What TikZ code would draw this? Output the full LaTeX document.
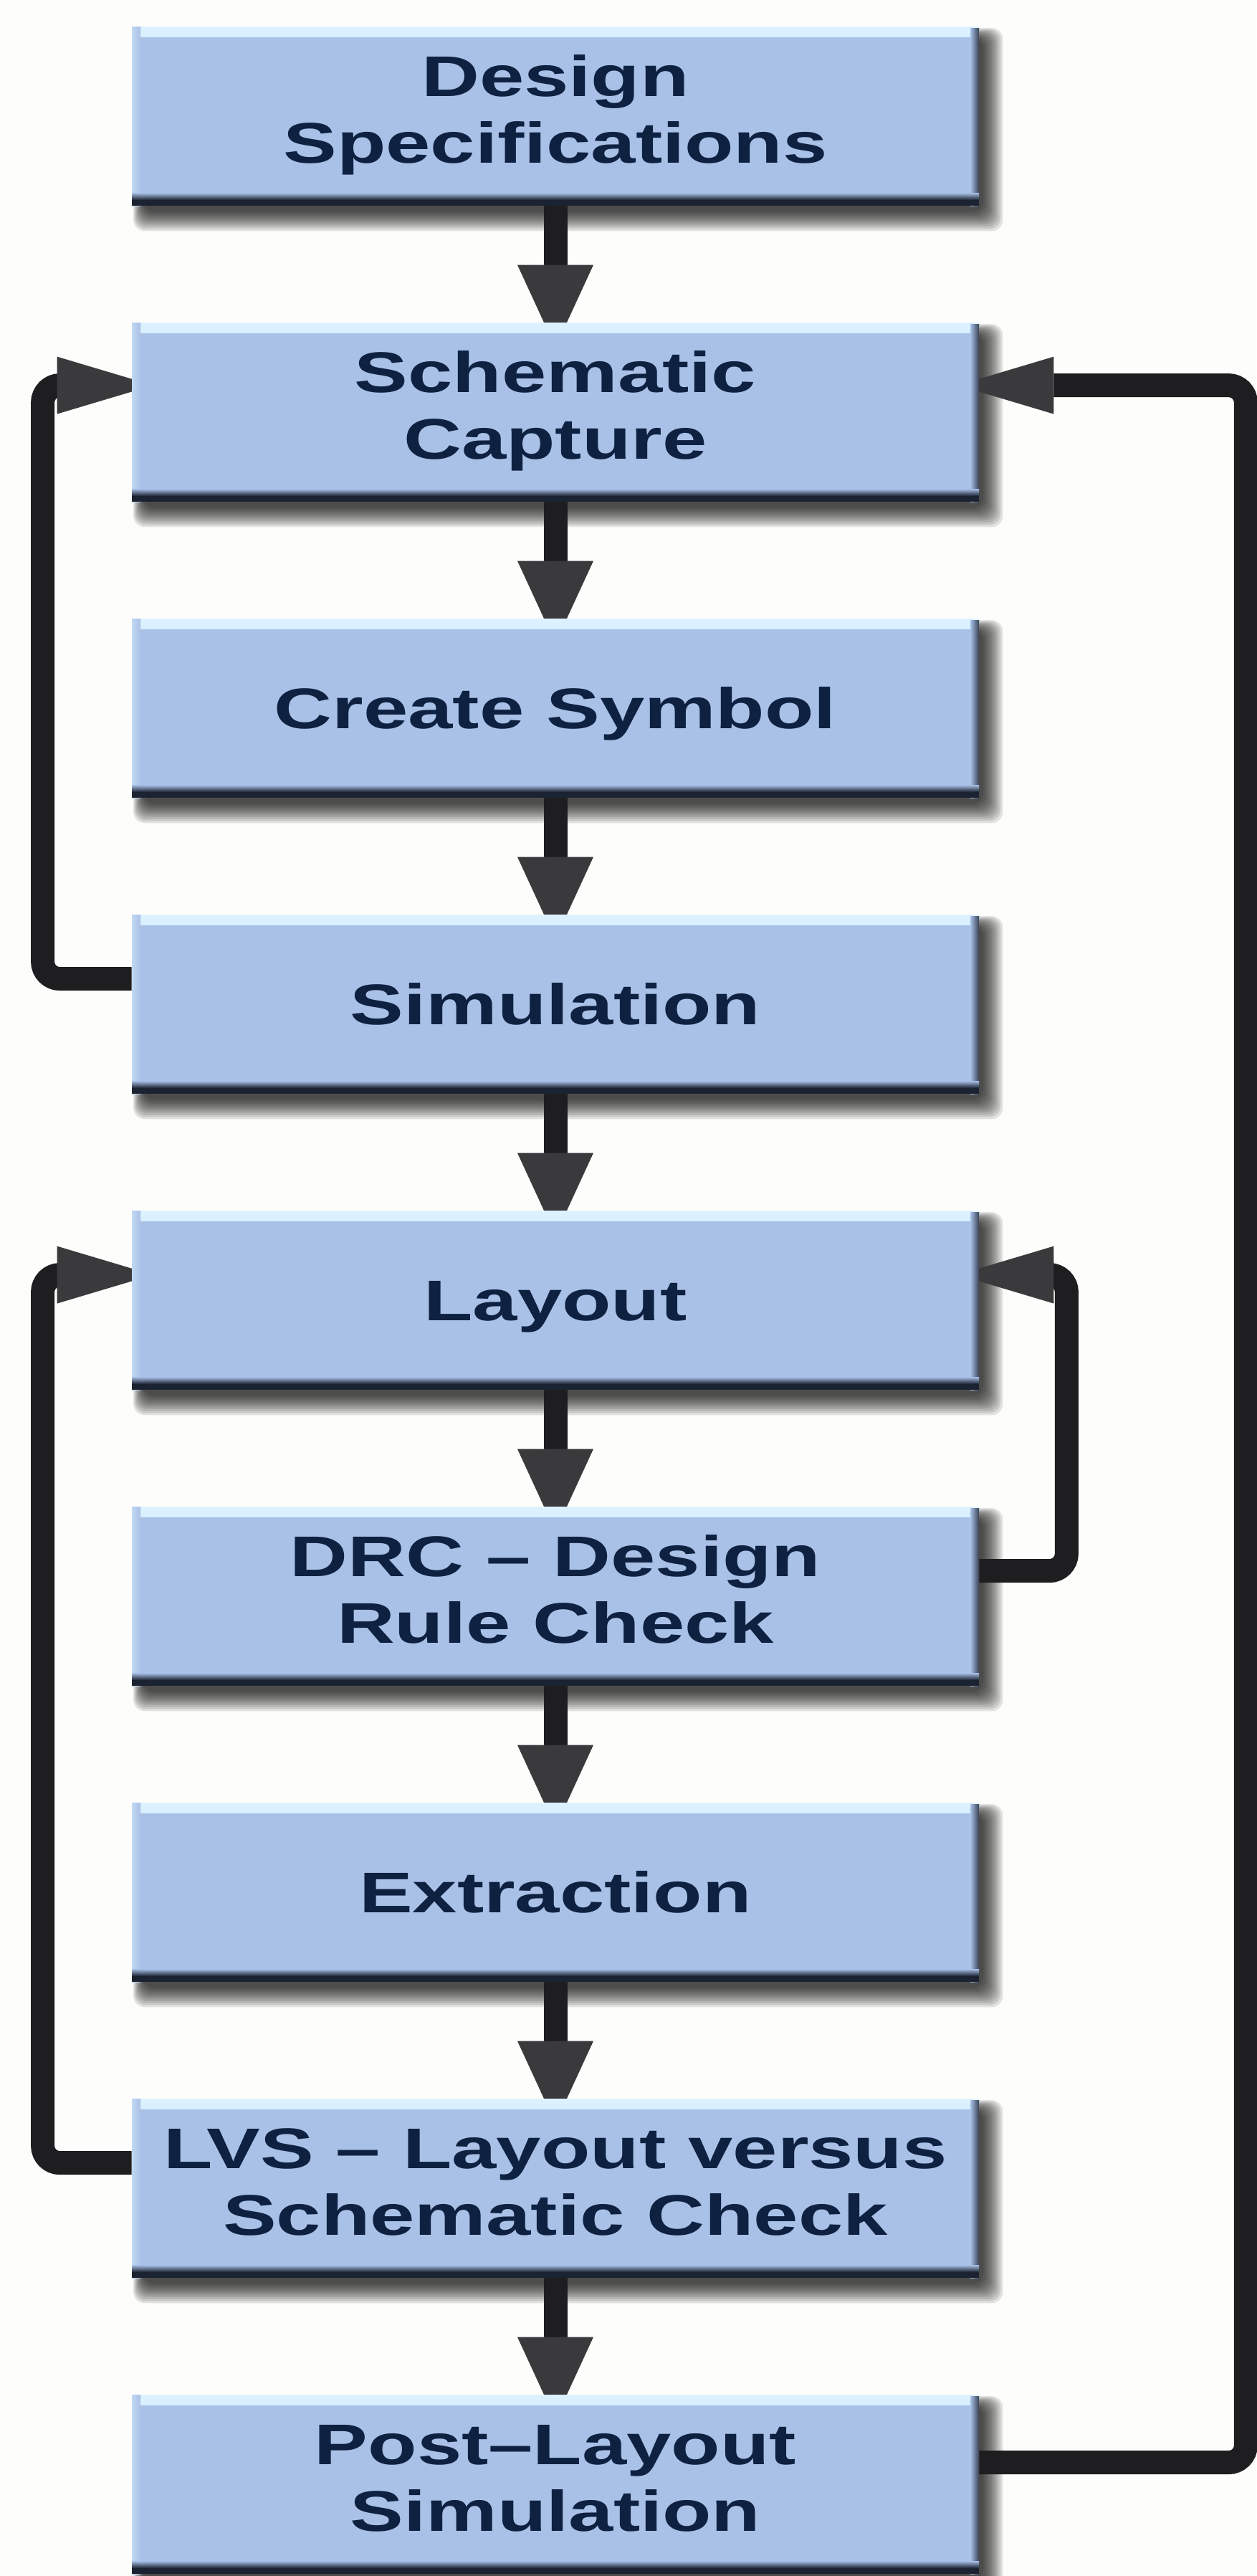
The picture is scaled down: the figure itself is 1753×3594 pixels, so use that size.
\documentclass[tikz,border=0pt]{standalone}
\usepackage{fontspec}
\setmainfont{Liberation Sans}
\usepackage{graphicx}
\usetikzlibrary{arrows.meta,calc}
\definecolor{boxc}{HTML}{A9C1E7}
\definecolor{hic}{HTML}{DDF2FF}
\definecolor{edgec}{HTML}{1B2332}
\definecolor{txtc}{HTML}{0E2141}
\definecolor{linec}{HTML}{1E1E20}
\definecolor{headc}{HTML}{3A3A3C}
\definecolor{bgc}{HTML}{FDFDFB}
\pgfdeclarelayer{shadowlayer}
\pgfdeclarelayer{arrowlayer}
\pgfsetlayers{shadowlayer,arrowlayer,main}
\newcommand{\wtxt}[1]{\scalebox{1.4}[1]{#1}}
\newcommand{\wtwo}[2]{\scalebox{1.4}[1]{\begin{tabular}{@{}c@{}}#1\\#2\end{tabular}}}
\tikzset{
  x=0.5pt, y=-0.5pt,
  stepbox/.style={rectangle, inner sep=0pt, minimum width=591pt, minimum height=125pt,
    fill=boxc, text=txtc, font=\bfseries\fontsize{40}{46.5}\selectfont,
    path picture={
      \shade[top color=hic, bottom color=boxc] (path picture bounding box.north west) rectangle ($(path picture bounding box.north east)+(0,14)$);
      \shade[left color=hic!45!boxc, right color=boxc] (path picture bounding box.north west) rectangle ($(path picture bounding box.south west)+(12,0)$);
      \shade[left color=boxc, right color=edgec!80!boxc] ($(path picture bounding box.north east)+(-12,2)$) rectangle (path picture bounding box.south east);
      \shade[top color=boxc, bottom color=edgec] ($(path picture bounding box.south west)+(0,-18)$) rectangle ($(path picture bounding box.south east)+(0,-8)$);
      \fill[edgec] ($(path picture bounding box.south west)+(0,-8)$) rectangle (path picture bounding box.south east);
    }},
  onebox/.style={stepbox, text height=28.6pt, text depth=0pt},
  flow/.style={draw=linec, line width=16.5pt, -{Triangle[length=57.5pt,width=53pt,line width=0pt,color=headc]}},
  fb/.style={draw=linec, line width=16.5pt, rounded corners=12pt, -{Triangle[length=67pt,width=40pt,line width=0pt,color=headc]}},
}
\begin{document}
\begin{tikzpicture}
\useasboundingbox (0,0) rectangle (1753,3594);
\begin{pgfonlayer}{shadowlayer}
  \fill[bgc] (0,0) rectangle (1753,3594);
\end{pgfonlayer}

\node[stepbox] (b1) at (775,162)  {\wtwo{Design}{Specifications}};
\node[stepbox] (b2) at (775,575)  {\wtwo{Schematic}{Capture}};
\node[onebox]  (b3) at (775,988)  {\wtxt{Create Symbol}};
\node[onebox]  (b4) at (775,1401) {\wtxt{Simulation}};
\node[onebox]  (b5) at (775,1814) {\wtxt{Layout}};
\node[stepbox] (b6) at (775,2227) {\wtwo{DRC – Design}{Rule Check}};
\node[onebox]  (b7) at (775,2640) {\wtxt{Extraction}};
\node[stepbox] (b8) at (775,3053) {\wtwo{LVS – Layout versus}{Schematic Check}};
\node[stepbox] (b9) at (775,3466) {\wtwo{Post–Layout}{Simulation}};

\begin{pgfonlayer}{shadowlayer}
  \foreach \i in {1,...,9}{
    \foreach \e in {0,3,...,27}{
      \fill[black, opacity=0.11, rounded corners=8pt]
        ($(b\i.north west)+(16-0.5*\e,16-0.5*\e)$) rectangle ($(b\i.south east)+(6+\e,8+\e)$);
    }
  }
\end{pgfonlayer}

\begin{pgfonlayer}{arrowlayer}
  \foreach \i/\j in {1/2,2/3,3/4,4/5,5/6,6/7,7/8,8/9}{
    \draw[flow] (b\i.south) -- ($(b\j.north)+(0,35)$);
  }
  \draw[fb] ($(b4.north west)+(0,90)$) -| ($(b2.north west)+(-124,88)$) -- ($(b2.north west)+(30,88)$);
  \draw[fb] ($(b9.north east)+(0,95)$) -| ($(b2.north east)+(372,88)$) -- ($(b2.north east)+(-30,88)$);
  \draw[fb] ($(b6.north east)+(0,90)$) -| ($(b5.north east)+(122,90)$) -- ($(b5.north east)+(-30,90)$);
  \draw[fb] ($(b8.north west)+(0,90)$) -| ($(b5.north west)+(-124,90)$) -- ($(b5.north west)+(30,90)$);
\end{pgfonlayer}
\end{tikzpicture}
\end{document}
